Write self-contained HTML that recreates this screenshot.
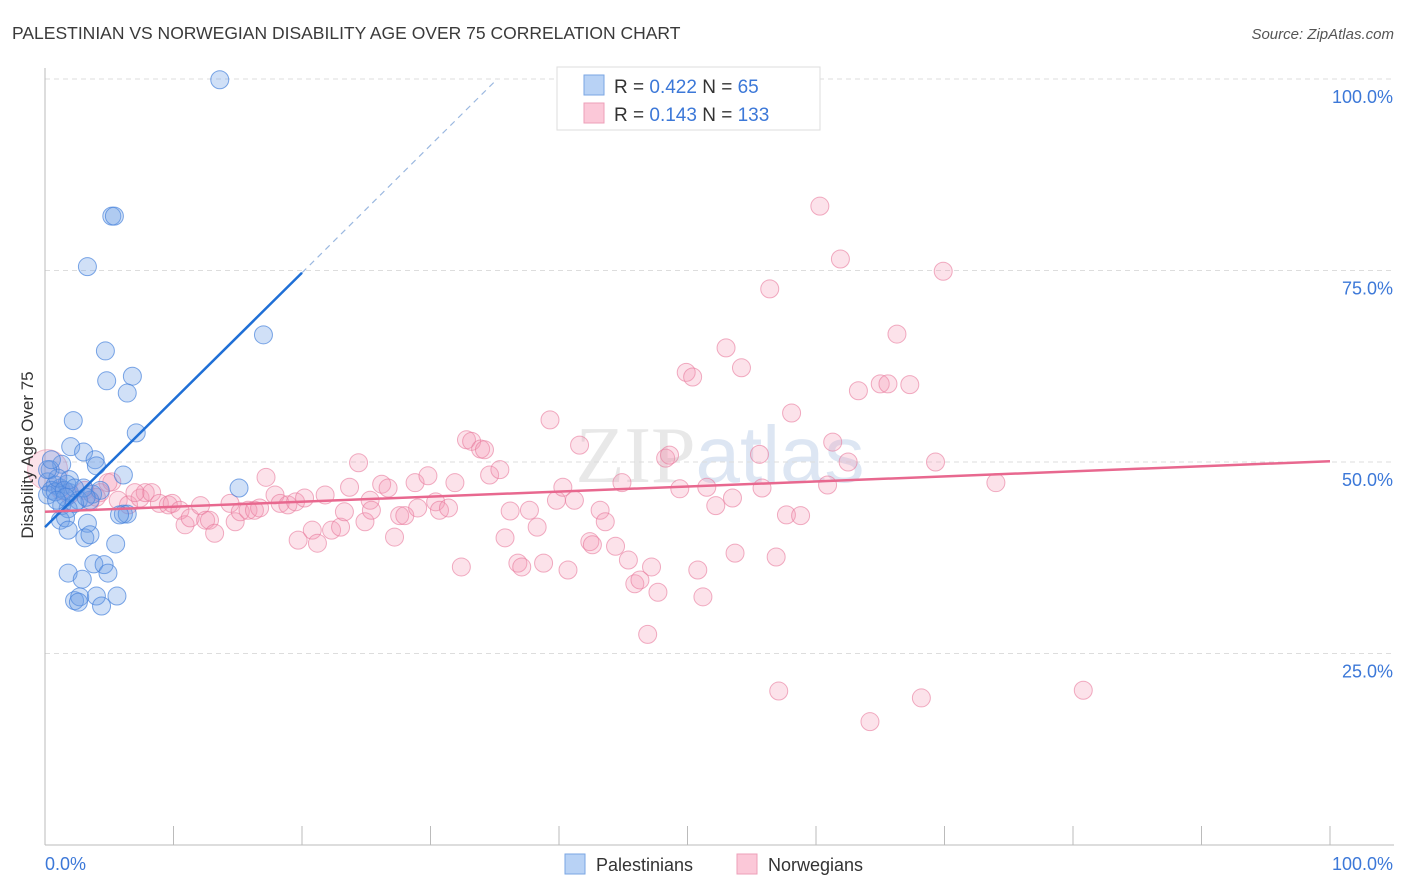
<!DOCTYPE html>
<html><head><meta charset="utf-8"><style>
body{margin:0;background:#fff;font-family:"Liberation Sans",sans-serif;}
svg{display:block}
</style></head><body>
<svg id="chart" width="1406" height="892">
<text x="12" y="39" font-size="17.5" fill="#3a3a3a">PALESTINIAN VS NORWEGIAN DISABILITY AGE OVER 75 CORRELATION CHART</text>
<text x="1394" y="39" font-size="15" fill="#555" text-anchor="end" font-style="italic">Source: ZipAtlas.com</text>
<text x="720" y="482" font-size="80" fill="#e8e8e8" text-anchor="middle" font-family="Liberation Serif">ZIP<tspan fill="#dde6f3" font-family="Liberation Sans">atlas</tspan></text>
<g id="grid"></g>
<g id="axes"></g>
<g id="pts"></g>
<g id="trend"></g>
<text transform="translate(33,455) rotate(-90)" font-size="17" fill="#333" text-anchor="middle">Disability Age Over 75</text>
<g>
<rect x="557" y="67" width="263" height="63" fill="#fff" stroke="#ddd"/>
<rect x="584" y="75" width="20" height="20" fill="#b8d2f5" stroke="#7aa6e3"/>
<rect x="584" y="103" width="20" height="20" fill="#fbc8d8" stroke="#ee9fb8"/>
<text x="614" y="93" font-size="19" fill="#333">R = <tspan fill="#3c78d8">0.422</tspan>   N = <tspan fill="#3c78d8">  65</tspan></text>
<text x="614" y="121" font-size="19" fill="#333">R = <tspan fill="#3c78d8"> 0.143</tspan>   N = <tspan fill="#3c78d8">133</tspan></text>
</g>
<g>
<rect x="565" y="854" width="20" height="20" fill="#b8d2f5" stroke="#7aa6e3"/>
<text x="596" y="871" font-size="18" fill="#333">Palestinians</text>
<rect x="737" y="854" width="20" height="20" fill="#fbc8d8" stroke="#ee9fb8"/>
<text x="768" y="871" font-size="18" fill="#333">Norwegians</text>
</g>
</svg>
<script>
const blueData=[[13.6,99.9],[5.2,82.1],[5.4,82.1],[3.3,75.5],[17.0,66.6],[4.7,64.5],[4.8,60.6],[6.8,61.2],[6.4,59.0],[2.2,55.4],[7.1,53.8],[2.0,52.0],[3.0,51.3],[3.9,50.3],[4.0,49.5],[1.3,49.7],[0.4,49.0],[6.1,48.3],[0.2,47.4],[0.8,47.0],[1.2,46.6],[1.7,47.1],[0.5,46.3],[1.9,46.0],[3.7,45.8],[3.5,45.0],[2.6,45.0],[15.1,46.6],[1.3,44.3],[1.8,43.9],[2.3,44.6],[1.2,42.4],[1.6,42.7],[3.3,42.0],[1.8,41.1],[6.1,43.2],[6.4,43.2],[3.1,40.1],[3.5,40.5],[5.5,39.3],[3.8,36.7],[1.8,35.5],[2.9,34.7],[4.6,36.6],[4.9,35.5],[2.3,31.9],[2.7,32.4],[2.6,31.7],[4.0,32.5],[5.6,32.5],[4.4,31.2],[0.2,45.7],[0.8,46.1],[1.0,47.9],[1.5,46.3],[3.0,46.6],[0.2,49.0],[0.5,50.3],[1.9,47.7],[2.3,46.6],[4.3,46.3],[1.6,45.4],[3.2,45.4],[0.9,45.0],[5.8,43.1]];
const pinkData=[[1.2,46.3],[1.9,45.7],[3.1,46.3],[4.3,46.0],[5.2,47.4],[5.7,45.0],[6.5,44.4],[7.4,45.3],[7.8,46.0],[8.3,46.0],[8.9,44.6],[9.6,44.4],[9.9,44.6],[10.5,43.7],[10.9,41.8],[11.3,42.7],[12.1,44.3],[12.5,42.4],[12.8,42.4],[13.2,40.7],[14.4,44.6],[14.8,42.2],[15.2,43.5],[15.8,43.7],[16.3,43.7],[16.7,44.0],[17.2,48.0],[17.9,45.7],[18.3,44.6],[18.9,44.4],[19.5,44.8],[19.7,39.8],[20.2,45.3],[20.8,41.1],[21.2,39.4],[21.8,45.7],[22.3,41.1],[23.0,41.5],[23.3,43.5],[23.7,46.7],[24.4,49.9],[24.9,42.2],[25.3,45.0],[25.4,43.7],[26.2,47.1],[26.7,46.6],[27.2,40.2],[27.6,43.0],[28.0,43.0],[28.8,47.3],[29.0,44.0],[29.8,48.2],[30.4,44.8],[30.7,43.7],[31.4,44.0],[31.9,47.3],[32.4,36.3],[32.8,52.9],[33.2,52.7],[33.9,51.7],[34.2,51.6],[34.6,48.3],[35.4,49.0],[35.8,40.1],[36.2,43.6],[36.8,36.8],[37.1,36.3],[37.7,43.7],[38.3,41.5],[38.8,36.8],[39.3,55.5],[39.8,45.0],[40.3,46.7],[40.7,35.9],[41.2,45.0],[41.6,52.2],[42.4,39.6],[42.6,39.2],[43.2,43.7],[43.6,42.2],[44.4,39.0],[44.9,47.3],[45.4,37.2],[45.9,34.1],[46.3,34.6],[46.9,27.5],[47.2,36.3],[47.7,33.0],[48.3,50.5],[48.6,50.9],[49.4,46.5],[49.9,61.7],[50.4,61.1],[50.8,35.9],[51.2,32.4],[51.5,46.7],[52.2,44.3],[53.0,64.9],[53.5,45.3],[53.7,38.1],[54.2,62.3],[55.6,51.0],[55.8,46.6],[56.4,72.6],[56.9,37.6],[57.1,20.1],[57.7,43.1],[58.1,56.4],[58.8,43.0],[60.3,83.4],[60.9,47.0],[61.3,52.6],[61.9,76.5],[62.5,50.0],[63.3,59.3],[64.2,16.1],[65.0,60.2],[65.6,60.2],[66.3,66.7],[67.3,60.1],[68.2,19.2],[69.3,50.0],[69.9,74.9],[74.0,47.3],[80.8,20.2],[4.9,47.3],[7.0,46.0],[3.5,44.8],[4.0,45.4]];
const pinkBig=[[0.2,49.0]];
const yTicks=[25,50,75,100];
const yTickLabels=["25.0%","50.0%","75.0%","100.0%"];
const xTicks=[0,10,20,30,40,50,60,70,80,90,100];
const blueTrend=[[0,41.5],[20,74.7],[35.2,100]];
const pinkTrend=[[0,43.5],[100,50.1]];
const NS="http://www.w3.org/2000/svg";
const X=v=>45+v*12.85, Y=v=>845-v*7.66;
function mk(t,a,p){const e=document.createElementNS(NS,t);for(const k in a)e.setAttribute(k,a[k]);p.appendChild(e);return e;}
const grid=document.getElementById('grid'),axes=document.getElementById('axes'),pts=document.getElementById('pts'),tr=document.getElementById('trend');
yTicks.forEach((v,i)=>{
 const l=mk('line',{x1:45,x2:1394,y1:Y(v),y2:Y(v),stroke:'#ddd','stroke-dasharray':'5,4'},grid);
 
 
 const t=mk('text',{x:1393,y:Y(v)+24,'font-size':18,fill:'#3c78d8','text-anchor':'end'},axes);
 t.textContent=yTickLabels[i];
 
 
});
const ax=mk('line',{x1:45,x2:1394,y1:845,y2:845,stroke:'#bbb'},axes);


const ay=mk('line',{x1:45,x2:45,y1:68,y2:845,stroke:'#bbb'},axes);


xTicks.forEach(v=>{
 const l=mk('line',{x1:X(v),x2:X(v),y1:826,y2:845,stroke:'#bbb'},axes);
 
 
});
const x0=mk('text',{x:45,y:870,'font-size':18,fill:'#3c78d8'},axes);x0.textContent='0.0%';


const x1=mk('text',{x:1393,y:870,'font-size':18,fill:'#3c78d8','text-anchor':'end'},axes);x1.textContent='100.0%';


pinkBig.forEach(d=>{
 const c=mk('circle',{cx:X(d[0]),cy:Y(d[1]),r:20,fill:'rgba(240,140,170,0.25)',stroke:'rgba(230,130,160,0.5)'},pts);
 
 
});
pinkData.forEach(d=>{
 const c=mk('circle',{cx:X(d[0]),cy:Y(d[1]),r:9,fill:'rgba(244,150,180,0.28)',stroke:'rgba(232,120,155,0.6)'},pts);
 
 
});
blueData.forEach(d=>{
 const c=mk('circle',{cx:X(d[0]),cy:Y(d[1]),r:9,fill:'rgba(110,160,230,0.32)',stroke:'rgba(70,130,220,0.7)'},pts);
 
 
});
const bl=mk('line',{x1:X(blueTrend[0][0]),y1:Y(blueTrend[0][1]),x2:X(blueTrend[1][0]),y2:Y(blueTrend[1][1]),stroke:'#1f6fd6','stroke-width':2.5},tr);


const bd=mk('line',{x1:X(blueTrend[1][0]),y1:Y(blueTrend[1][1]),x2:X(blueTrend[2][0]),y2:Y(blueTrend[2][1]),stroke:'#9bb8e0','stroke-width':1.2,'stroke-dasharray':'6,5'},tr);


const pl=mk('line',{x1:X(pinkTrend[0][0]),y1:Y(pinkTrend[0][1]),x2:X(pinkTrend[1][0]),y2:Y(pinkTrend[1][1]),stroke:'#e8688f','stroke-width':2.5},tr);


</script>
</body></html>
